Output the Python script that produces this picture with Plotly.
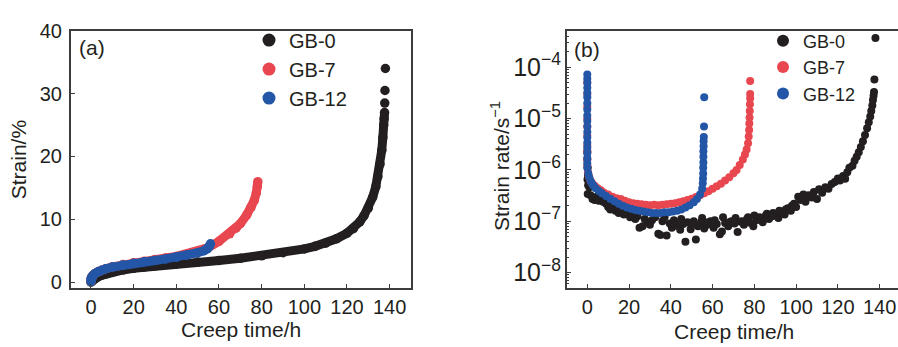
import plotly.graph_objects as go

# ---------------- data: panel (a) strain vs creep time ----------------
gb0_time = [0, 0.5, 1, 2, 3, 5, 7, 10, 15, 20, 25, 30, 40, 50, 60, 70, 80, 90, 100, 105,
            110, 115, 120, 123, 126, 128, 130, 132, 133.5, 134.5, 135.5, 136.3, 136.8, 137.2,
            137.4, 137.6, 137.7, 137.8, 138]
gb0_strain = [0, 0.2, 0.4, 0.6, 0.8, 1.1, 1.3, 1.6, 1.95, 2.2, 2.4, 2.6, 2.9, 3.2, 3.45, 3.8,
              4.2, 4.7, 5.3, 5.7, 6.2, 6.9, 7.8, 8.5, 9.6, 10.6, 11.8, 13.5, 15.2, 16.8, 18.8,
              21.0, 23.0, 25.0, 26.0, 27.0, 28.5, 30.5, 34.0]

gb7_time = [0, 0, 0.3, 1, 2, 3.5, 5, 7, 10, 15, 20, 25, 30, 35, 40, 45, 50, 55, 60, 65, 68,
            70, 73, 75, 76.5, 77.5, 78, 78.2]
gb7_strain = [0.1, 0.5, 0.8, 1.1, 1.4, 1.7, 1.9, 2.15, 2.45, 2.8, 3.1, 3.35, 3.6, 3.85, 4.1,
              4.45, 4.9, 5.5, 6.5, 7.7, 8.6, 9.3, 10.7, 11.9, 13.0, 14.2, 15.2, 16.0]

gb12_time = [0, 0, 0.3, 1, 2, 3.5, 5, 7, 10, 15, 20, 25, 30, 35, 40, 45, 50, 53, 54.5, 55.5,
             56]
gb12_strain = [0.1, 0.5, 0.8, 1.1, 1.4, 1.7, 1.9, 2.15, 2.4, 2.75, 3.0, 3.25, 3.45, 3.7, 3.95,
               4.3, 4.7, 5.0, 5.3, 5.7, 6.1]

# ---------------- data: panel (b) strain rate vs creep time ----------------
gb0_rate_time = [0, 0, 0.2, 0.3, 0.1, 0.4, 0.2, 1, 1.5, 2.5, 3.5, 4.5, 5.5, 6.5, 7.5, 9, 10, 11,
                 12, 13.5, 15, 16, 17.5, 19, 20.5, 21.5, 23, 24, 25, 26.5, 27.5, 29, 30, 31,
                 32.5, 34, 35, 36, 37, 38, 39.5, 40.5, 41.5, 43, 44.5, 46, 47, 48, 49.5, 51, 52,
                 53, 54.5, 56, 57.5, 59, 60.5, 62, 63.5, 64.5, 66, 67.5, 69, 70.5, 72, 73.5, 75,
                 76.5, 78, 79.5, 81, 82.5, 84, 85.5, 87, 88.5, 90, 91.5, 93, 94.5, 96, 97.5, 99,
                 100, 101, 102, 103.5, 104.5, 106, 107.5, 108.5, 110, 111, 112.5, 114, 115.5, 117,
                 118.5, 120, 121, 122.5, 123.5, 124.5, 125.5, 127, 128, 129, 130, 131, 132, 133,
                 134, 134.8, 135.5, 136, 136.5, 136.8, 137.1, 137.3, 137.5, 138,
                 42, 45, 50, 55, 58, 61, 65, 68, 71, 74, 77, 80, 83, 86, 89, 92, 95, 98]
gb0_rate = [2.3e-6, 1.6e-6, 1.1e-6, 8e-7, 6.5e-7, 5e-7, 3.4e-7, 4.6e-7, 3.2e-7, 2.7e-7, 2.6e-7,
            3.0e-7, 2.5e-7, 2.6e-7, 2.4e-7, 2.2e-7, 1.9e-7, 1.7e-7, 2.0e-7, 1.6e-7, 1.45e-7,
            1.7e-7, 1.35e-7, 1.4e-7, 1.2e-7, 1.35e-7, 1.1e-7, 1.25e-7, 7.5e-8, 8e-8, 1.1e-7,
            9.5e-8, 8.5e-8, 1.05e-7, 1.2e-7, 5.7e-8, 5.4e-8, 1.0e-7, 1.2e-7, 5.3e-8, 9e-8,
            7.5e-8, 1.05e-7, 8.2e-8, 6.8e-8, 8.8e-8, 4.0e-8, 9.5e-8, 7e-8, 1.0e-7, 4.4e-8,
            8e-8, 9.5e-8, 7.2e-8, 8.5e-8, 1.0e-7, 7.5e-8, 8.8e-8, 5.6e-8, 6.3e-8, 9.2e-8, 8e-8,
            1.0e-7, 9e-8, 6.2e-8, 9.8e-8, 8.5e-8, 1.1e-7, 9.3e-8, 8e-8, 1.05e-7, 1.2e-7, 9.5e-8,
            1.3e-7, 1.1e-7, 1.25e-7, 1.4e-7, 1.15e-7, 1.5e-7, 1.35e-7, 1.8e-7, 1.6e-7, 2.2e-7,
            1.9e-7, 3.0e-7, 2.6e-7, 3.3e-7, 2.4e-7, 3.2e-7, 2.9e-7, 3.7e-7, 2.7e-7, 4.2e-7,
            3.6e-7, 4.6e-7, 4.3e-7, 5.3e-7, 5.8e-7, 6.8e-7, 6.2e-7, 7.6e-7, 6.7e-7, 9.0e-7,
            1.1e-6, 1.2e-6, 1.5e-6, 1.8e-6, 2.2e-6, 2.8e-6, 3.6e-6, 4.8e-6, 6.5e-6, 8.5e-6,
            1.1e-5, 1.4e-5, 1.8e-5, 2.3e-5, 2.8e-5, 3.3e-5, 5.8e-5, 3.7e-4,
            9.0e-8, 1.1e-7, 8.5e-8, 1.15e-7, 9.5e-8, 1.05e-7, 1.2e-7, 9.5e-8, 1.15e-7, 1.0e-7,
            1.2e-7, 1.3e-7, 1.1e-7, 1.4e-7, 1.45e-7, 1.6e-7, 1.7e-7, 2.0e-7]

gb7_rate_time = [0, 0, 0, 0, 0, 0, 0, 0, 0, 0, 0.3, 0.8, 1.5, 2.5, 3.5, 5, 6.5, 8, 10, 12, 14,
                 16, 18, 20, 22, 24, 26, 28, 30, 32, 34, 36, 38, 40, 42, 44, 46, 48, 50, 52, 54,
                 56, 58, 60, 62, 64, 66, 68, 70, 71.5, 73, 74.5, 75.5, 76.3, 77, 77.3, 77.5,
                 77.6, 77.7, 77.8, 77.9, 78, 78, 78]
gb7_rate = [5e-5, 3e-5, 1.7e-5, 1e-5, 7e-6, 4.7e-6, 3e-6, 2.2e-6, 1.6e-6, 1.2e-6, 9e-7,
            7.5e-7, 6.2e-7, 5.4e-7, 4.9e-7, 4.4e-7, 4e-7, 3.6e-7, 3.3e-7, 3.0e-7, 2.8e-7,
            2.7e-7, 2.5e-7, 2.35e-7, 2.25e-7, 2.2e-7, 2.15e-7, 2.1e-7, 2.05e-7, 2.1e-7, 2.05e-7,
            2.1e-7, 2.15e-7, 2.2e-7, 2.25e-7, 2.35e-7, 2.45e-7, 2.6e-7, 2.75e-7, 2.95e-7,
            3.2e-7, 3.5e-7, 3.85e-7, 4.3e-7, 4.8e-7, 5.4e-7, 6.2e-7, 7.2e-7, 8.6e-7, 1.0e-6,
            1.25e-6, 1.6e-6, 2.0e-6, 2.5e-6, 3.3e-6, 4.5e-6, 6e-6, 8e-6, 1.05e-5, 1.4e-5,
            1.9e-5, 2.5e-5, 3.0e-5, 5.4e-5]

gb12_rate_time = [0, 0, 0, 0, 0, 0, 0, 0, 0, 0, 0, 0, 0, 0, 0, 0, 0, 0, 0, 0.5, 1, 1.8, 2.8,
                  4, 5.5, 7, 9, 11, 13, 15, 17, 19, 21, 23, 25, 27, 29, 31, 33, 35, 37, 39, 41,
                  43, 45, 47, 49, 51, 52.5, 54, 55, 55.3, 55.4, 55.5, 55.5, 55.6, 55.6, 55.6,
                  55.7, 55.7, 55.8, 55.9, 56]
gb12_rate = [7.2e-5, 6e-5, 5e-5, 4e-5, 3.2e-5, 2.6e-5, 2e-5, 1.5e-5, 1.15e-5, 9e-6, 7e-6,
             5.5e-6, 4.3e-6, 3.4e-6, 2.7e-6, 2.1e-6, 1.7e-6, 1.35e-6, 1.1e-6, 8.5e-7, 7e-7,
             5.8e-7, 5e-7, 4.4e-7, 3.9e-7, 3.5e-7, 3.1e-7, 2.75e-7, 2.45e-7, 2.2e-7, 2.0e-7,
             1.85e-7, 1.75e-7, 1.65e-7, 1.6e-7, 1.55e-7, 1.5e-7, 1.45e-7, 1.45e-7, 1.45e-7,
             1.5e-7, 1.5e-7, 1.55e-7, 1.6e-7, 1.7e-7, 1.85e-7, 2.05e-7, 2.35e-7, 2.7e-7,
             3.3e-7, 4.3e-7, 5.5e-7, 6.8e-7, 8.5e-7, 1.1e-6, 1.4e-6, 1.8e-6, 2.3e-6, 2.9e-6,
             3.6e-6, 4.4e-6, 7e-6, 2.6e-5]

x_ticks = [0, 20, 40, 60, 80, 100, 120, 140]
series_names = ["GB-0", "GB-7", "GB-12"]

# ---------------- style ----------------
BLACK = "#231f20"
RED = "#e8474f"
BLUE = "#2356a6"
AXIS = "#3c3c3c"
FONT = "Liberation Sans, Arial, sans-serif"
colors = [BLACK, RED, BLUE]

fig = go.Figure()

# panel (a): dense bands drawn as thick lines with markers on top
strain_sets = [(gb0_time, gb0_strain, 35), (gb7_time, gb7_strain, None),
               (gb12_time, gb12_strain, None)]
for (t, s, n_dense), c in zip(strain_sets, colors):
    tt = t if n_dense is None else t[:n_dense + 1]
    ss = s if n_dense is None else s[:n_dense + 1]
    fig.add_trace(go.Scatter(x=tt, y=ss, mode="lines", line=dict(color=c, width=9),
                             showlegend=False, hoverinfo="skip", xaxis="x", yaxis="y"))
    fig.add_trace(go.Scatter(x=t, y=s, mode="markers",
                             marker=dict(color=c, size=9.5, line=dict(width=0)),
                             showlegend=False, xaxis="x", yaxis="y"))

# panel (b): strain rate scatter
rate_sets = [(gb0_rate_time, gb0_rate), (gb7_rate_time, gb7_rate), (gb12_rate_time, gb12_rate)]
for (t, r), c in zip(rate_sets, colors):
    fig.add_trace(go.Scatter(x=t, y=r, mode="markers",
                             marker=dict(color=c, size=8, line=dict(width=0)),
                             showlegend=False, xaxis="x2", yaxis="y2"))

# legend entries
for name, c in zip(series_names, colors):
    fig.add_trace(go.Scatter(x=[None], y=[None], mode="markers", name=name,
                             marker=dict(color=c, size=13), xaxis="x", yaxis="y",
                             legend="legend"))
for name, c in zip(series_names, colors):
    fig.add_trace(go.Scatter(x=[None], y=[None], mode="markers", name=name,
                             marker=dict(color=c, size=12), xaxis="x2", yaxis="y2",
                             legend="legend2"))

W, H = 898, 347
common_axis = dict(showgrid=False, zeroline=False, showline=True, linecolor=AXIS,
                   linewidth=1.5, ticks="inside", ticklen=5, tickwidth=1.2, tickcolor=AXIS,
                   tickfont=dict(family=FONT, size=20, color=BLACK))

fig.update_layout(
    width=W, height=H, margin=dict(l=0, r=0, t=0, b=0),
    paper_bgcolor="white", plot_bgcolor="white",
    font=dict(family=FONT, color=BLACK),
    xaxis=dict(domain=[70.7 / W, 411 / W], range=[-9.5, 150], tickvals=x_ticks,
               mirror=True, anchor="y", **common_axis),
    yaxis=dict(domain=[1 - 290 / H, 1 - 20.7 / H], range=[-1, 40], dtick=10,
               mirror=True, anchor="x", ticklabelstandoff=3, **common_axis),
    xaxis2=dict(domain=[566.7 / W, 1.0], range=[-9.86, 148.8], tickvals=x_ticks,
                mirror=True, anchor="y2", **common_axis),
    yaxis2=dict(domain=[1 - 290 / H, 1 - 20.7 / H], type="log", range=[-8.31, -3.29],
                dtick=1, exponentformat="power", mirror=False, anchor="x2",
                minor=dict(ticks="inside", ticklen=3, tickcolor=AXIS, dtick="D1"),
                **common_axis),
    legend=dict(x=249 / W, y=1 - 10 / H, xanchor="left", yanchor="top",
                font=dict(family=FONT, size=20, color=BLACK), bgcolor="rgba(0,0,0,0)",
                itemsizing="trace"),
    legend2=dict(x=763 / W, y=1 - 12 / H, xanchor="left", yanchor="top",
                 font=dict(family=FONT, size=18, color=BLACK), bgcolor="rgba(0,0,0,0)",
                 itemsizing="trace"),
    annotations=[
        dict(text="(a)", x=77 / W, y=1 - 38 / H, xref="paper", yref="paper",
             xanchor="left", yanchor="middle", showarrow=False, font=dict(size=21)),
        dict(text="(b)", x=572 / W, y=1 - 40 / H, xref="paper", yref="paper",
             xanchor="left", yanchor="middle", showarrow=False, font=dict(size=21)),
        dict(text="Strain/%", x=18 / W, y=1 - 156 / H, xref="paper", yref="paper",
             xanchor="center", yanchor="middle", textangle=-90, showarrow=False,
             font=dict(size=21)),
        dict(text="Creep time/h", x=241 / W, y=1 - 333 / H, xref="paper", yref="paper",
             xanchor="center", yanchor="middle", showarrow=False, font=dict(size=21)),
        dict(text="Strain rate/s<sup>\u22121</sup>", x=500 / W, y=1 - 162 / H,
             xref="paper", yref="paper", xanchor="center", yanchor="middle",
             textangle=-90, showarrow=False, font=dict(size=21)),
        dict(text="Creep time/h", x=734 / W, y=1 - 335 / H, xref="paper", yref="paper",
             xanchor="center", yanchor="middle", showarrow=False, font=dict(size=21)),
    ],
)

fig.write_html("out.html", config={"displayModeBar": False},
               post_script="document.body.style.margin='0';"
                           "document.body.style.overflow='hidden';")
